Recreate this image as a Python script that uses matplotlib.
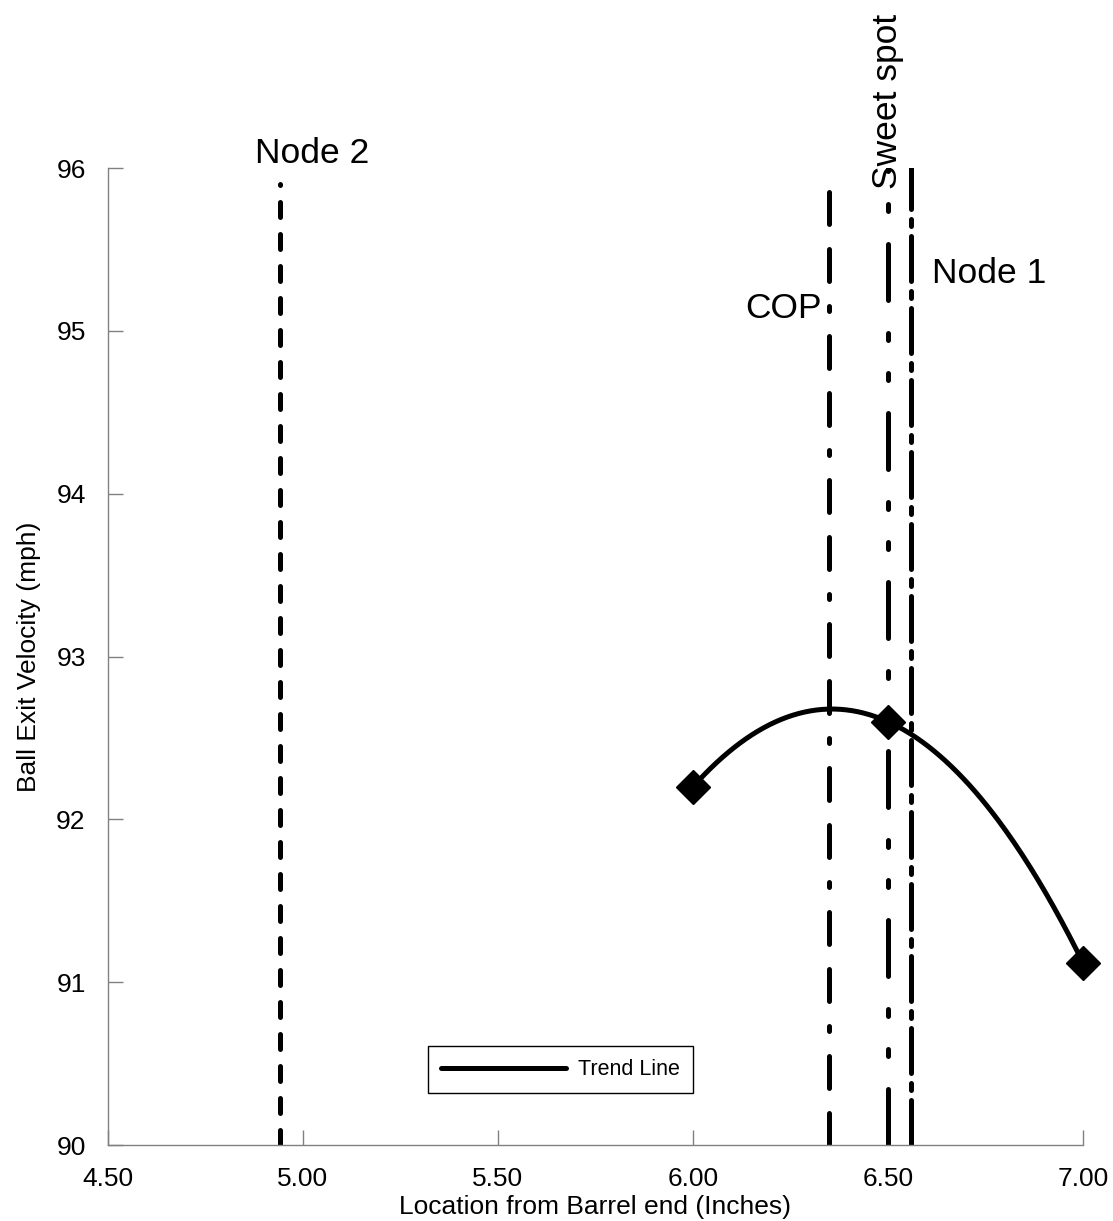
import numpy as np
import matplotlib
matplotlib.use("Agg")
import matplotlib.pyplot as plt

plt.rcParams['font.family'] = ['Liberation Sans', 'DejaVu Sans']

# measured exit velocity at impact locations
loc = [6.00, 6.50, 7.00]
speed = [92.2, 92.6, 91.12]

# reference locations (inches from barrel end)
node2 = 4.94
cop = 6.35
sweet = 6.50
node1 = 6.56

xticks = [4.5, 5.0, 5.5, 6.0, 6.5, 7.0]
yticks = [90, 91, 92, 93, 94, 95, 96]

fig = plt.figure(figsize=(11.13, 12.21), dpi=100)
ax = fig.add_axes([0.097, 0.0622, 0.876, 0.8002])

lw = 3.6
# vertical marker lines, drawn bottom to top
ax.plot([node2, node2], [90, 95.9], color='black', lw=lw, dashes=(3, 3.4),
        dash_capstyle='round')
ax.plot([cop, cop], [90, 96], color='black', lw=lw,
        dashes=(6.4, 5, 6.4, 5, 1, 5), dash_capstyle='round')
ax.plot([sweet, sweet], [90, 96], color='black', lw=lw,
        dashes=(11.2, 6.6, 1.4, 6.6, 1.4, 6.6), dash_capstyle='round')
ax.plot([node1, node1], [90, 96], color='black', lw=lw,
        dashes=(9, 2, 1.4, 2), dash_capstyle='round')

# trend line (2nd order fit) and points
coef = np.polyfit(loc, speed, 2)
xs = np.linspace(min(loc), max(loc), 200)
ax.plot(xs, np.polyval(coef, xs), color='black', lw=3.6, label='Trend Line',
        solid_capstyle='round', clip_on=False)
ax.plot(loc, speed, 'D', color='black', ms=17, clip_on=False, zorder=5)

fs = 25.5
ax.text(5.023, 96.03, 'Node 2', fontsize=fs, ha='center', va='baseline')
ax.text(6.331, 95.08, 'COP', fontsize=fs, ha='right', va='baseline')
ax.text(6.613, 95.295, 'Node 1', fontsize=fs, ha='left', va='baseline')
ax.text(6.50, 95.87, 'Sweet spot', fontsize=fs, rotation=90, ha='center',
        va='bottom')

ax.set_xlim(4.5, 7.0)
ax.set_ylim(90, 96)
ax.set_xticks(xticks)
ax.set_xticklabels(['%.2f' % v for v in xticks])
ax.set_yticks(yticks)
ax.set_yticklabels([str(v) for v in yticks])
ax.tick_params(direction='in', length=11, width=1, color='#808080',
               labelsize=19)
ax.tick_params(axis='x', pad=15.5)
ax.tick_params(axis='y', pad=16)

for s in ['top', 'right']:
    ax.spines[s].set_visible(False)
for s in ['left', 'bottom']:
    ax.spines[s].set_color('#808080')
    ax.spines[s].set_linewidth(1)

ax.set_xlabel('Location from Barrel end (Inches)', fontsize=19, labelpad=3.5)
ax.set_ylabel('Ball Exit Velocity (mph)', fontsize=19, labelpad=11)

leg = ax.legend(loc='lower left', bbox_to_anchor=(0.328, 0.053),
                borderaxespad=0, fontsize=15.5, handlelength=5.8,
                fancybox=False, framealpha=1, edgecolor='black',
                borderpad=0.6, handletextpad=0.6)
leg.get_frame().set_linewidth(1)

fig.savefig('out.png', dpi=100)
